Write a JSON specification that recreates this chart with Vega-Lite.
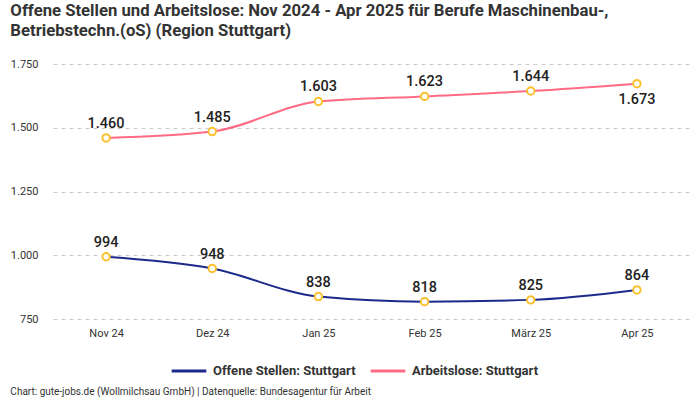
{
  "$schema": "https://vega.github.io/schema/vega-lite/v6.json",
  "padding": {"left": 10, "top": 3, "right": 8, "bottom": 2},
  "background": "white",
  "config": {
    "font": "Roboto",
    "locale": {"number": {"decimal": ",", "thousands": ".", "grouping": [3], "currency": ["", " €"]}},
    "view": {"stroke": null},
    "axis": {"labelFont": "Roboto", "labelFontSize": 11, "labelColor": "#333", "domain": false, "ticks": false, "title": null}
  },
  "title": {
    "text": ["Offene Stellen und Arbeitslose: Nov 2024 - Apr 2025 für Berufe Maschinenbau-,", "Betriebstechn.(oS) (Region Stuttgart)"],
    "anchor": "start",
    "frame": "bounds",
    "fontSize": 16.7,
    "lineHeight": 20,
    "fontWeight": "bold",
    "color": "#333",
    "offset": 18
  },
  "resolve": {"legend": {"color": "independent"}},
  "vconcat": [
    {
      "width": 637,
      "height": 255,
      "title": {
        "text": "Chart: gute-jobs.de (Wollmilchsau GmbH) | Datenquelle: Bundesagentur für Arbeit",
        "orient": "bottom",
        "anchor": "start",
        "frame": "bounds",
        "fontSize": 10,
        "fontWeight": "normal",
        "color": "#333",
        "offset": 9
      },
      "data": {
        "values": [
          {"monat": "Nov 24", "serie": "Offene Stellen: Stuttgart", "wert": 994},
          {"monat": "Dez 24", "serie": "Offene Stellen: Stuttgart", "wert": 948},
          {"monat": "Jan 25", "serie": "Offene Stellen: Stuttgart", "wert": 838},
          {"monat": "Feb 25", "serie": "Offene Stellen: Stuttgart", "wert": 818},
          {"monat": "März 25", "serie": "Offene Stellen: Stuttgart", "wert": 825},
          {"monat": "Apr 25", "serie": "Offene Stellen: Stuttgart", "wert": 864},
          {"monat": "Nov 24", "serie": "Arbeitslose: Stuttgart", "wert": 1460},
          {"monat": "Dez 24", "serie": "Arbeitslose: Stuttgart", "wert": 1485},
          {"monat": "Jan 25", "serie": "Arbeitslose: Stuttgart", "wert": 1603},
          {"monat": "Feb 25", "serie": "Arbeitslose: Stuttgart", "wert": 1623},
          {"monat": "März 25", "serie": "Arbeitslose: Stuttgart", "wert": 1644},
          {"monat": "Apr 25", "serie": "Arbeitslose: Stuttgart", "wert": 1673}
        ]
      },
      "encoding": {
        "x": {
          "field": "monat", "type": "ordinal", "sort": null,
          "scale": {"type": "point", "padding": 0.5},
          "axis": {"labelAngle": 0, "grid": false, "labelPadding": 8}
        },
        "y": {
          "field": "wert", "type": "quantitative",
          "scale": {"domain": [750, 1750], "nice": false, "zero": false},
          "axis": {"values": [750, 1000, 1250, 1500, 1750], "format": ",.0f", "grid": true, "gridDash": [4, 4], "gridColor": "#cccccc", "labelPadding": 15}
        }
      },
      "layer": [
        {
          "mark": {"type": "line", "interpolate": "monotone", "strokeWidth": 2},
          "encoding": {
            "color": {
              "field": "serie", "type": "nominal",
              "scale": {"domain": ["Offene Stellen: Stuttgart", "Arbeitslose: Stuttgart"], "range": ["#1c2a8c", "#ff6b84"]},
              "legend": {
                "orient": "none", "legendX": 117, "legendY": 288,
                "direction": "horizontal", "title": null,
                "labelFontSize": 13, "labelFontWeight": "bold", "labelColor": "#333",
                "symbolType": "stroke", "symbolStrokeWidth": 3, "symbolSize": 1200,
                "columnPadding": 8, "labelOffset": 5
              }
            }
          }
        },
        {
          "mark": {"type": "point", "filled": true, "fill": "white", "stroke": "#fbc02d", "strokeWidth": 2, "size": 55, "opacity": 1}
        },
        {
          "transform": [{"filter": "!(datum.monat == 'Apr 25' && datum.wert > 1500)"}],
          "mark": {"type": "text", "dy": -14, "fontSize": 14.5, "fontWeight": 500, "color": "#222"},
          "encoding": {"text": {"field": "wert", "type": "quantitative", "format": ",.0f"}}
        },
        {
          "transform": [{"filter": "datum.monat == 'Apr 25' && datum.wert > 1500"}],
          "mark": {"type": "text", "dy": 16, "fontSize": 14.5, "fontWeight": 500, "color": "#222"},
          "encoding": {"text": {"field": "wert", "type": "quantitative", "format": ",.0f"}}
        }
      ]
    }
  ]
}
